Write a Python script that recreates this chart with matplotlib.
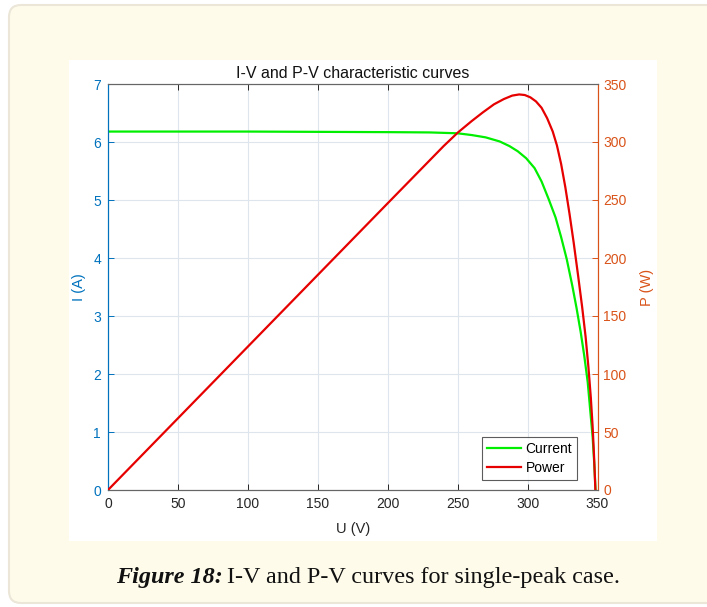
import matplotlib
matplotlib.use("Agg")
import matplotlib.pyplot as plt
from matplotlib.patches import FancyBboxPatch, Rectangle
from matplotlib.lines import Line2D

# ---- data ----
v_current = [0, 100, 200, 230, 250, 260, 270, 280, 287, 293, 299, 305, 310, 315,
             320, 324, 328, 332, 335, 338, 340.5, 343, 345, 346.5, 347.7, 348.6]
i_current = [6.18, 6.18, 6.17, 6.165, 6.15, 6.12, 6.08, 6.01, 5.93, 5.84, 5.72, 5.55, 5.32, 5.02,
             4.70, 4.36, 3.98, 3.52, 3.14, 2.72, 2.32, 1.86, 1.32, 0.92, 0.45, 0.0]

v_power = [0, 100, 200, 240, 250, 260, 268, 276, 283, 289, 294, 298, 302, 306, 310, 314,
           318, 321, 324, 327, 330, 333, 336, 339, 341.5, 343.5, 345.2, 346.5, 347.5, 348.5]
p_power = [0, 123.6, 247.2, 296.5, 308, 318, 325.5, 332.5, 337, 340, 341, 340.5, 338.5, 335,
           329.5, 320.5, 309, 297, 281, 261, 238, 213, 186, 158, 132, 106, 80, 55, 30, 0]

x_ticks = [0, 50, 100, 150, 200, 250, 300, 350]
i_ticks = [0, 1, 2, 3, 4, 5, 6, 7]
p_ticks = [0, 50, 100, 150, 200, 250, 300, 350]

title = "I-V and P-V characteristic curves"
caption_bold = "Figure 18:"
caption_rest = "I-V and P-V curves for single-peak case."

BLUE = "#0072BD"
ORANGE = "#D95319"
W, H = 707, 607

plt.rcParams['font.family'] = ['Liberation Sans', 'DejaVu Sans']

fig = plt.figure(figsize=(W / 100, H / 100), dpi=100)
fig.patch.set_facecolor("white")

# background panel (pixel coordinates)
bg = fig.add_axes([0, 0, 1, 1])
bg.set_xlim(0, W)
bg.set_ylim(H, 0)
bg.axis("off")
bg.add_patch(FancyBboxPatch((9, 5), 740, 598, boxstyle="round,pad=0,rounding_size=12",
                            facecolor="#fefbea", edgecolor="#ebe6d8", linewidth=1.5))
bg.add_patch(Rectangle((69, 60), 588, 481, facecolor="white", edgecolor="none"))

# caption
t1 = bg.text(116, 577, caption_bold, fontsize=17.4, fontweight="bold", fontstyle="italic",
             family="Liberation Serif", ha="left", va="center", color="#111111")
fig.canvas.draw()
r = fig.canvas.get_renderer()
bb = t1.get_window_extent(renderer=r)
x_end = bb.x1
bg.text(x_end + 4, 577, caption_rest, fontsize=17.4, family="Liberation Serif",
        ha="left", va="center", color="#111111")

# main axes
left, right, top, bottom = 108, 597.5, 84, 490
ax = fig.add_axes([left / W, 1 - bottom / H, (right - left) / W, (bottom - top) / H])
ax2 = ax.twinx()

ax.plot(v_current, i_current, color="#00ee00", lw=1.6, zorder=3)
ax2.plot(v_power, p_power, color="#e60000", lw=1.6, zorder=3)

ax.set_xlim(0, 350)
ax.set_ylim(0, 7)
ax2.set_ylim(0, 350)
ax.set_xticks(x_ticks)
ax.set_yticks(i_ticks)
ax2.set_yticks(p_ticks)

ax.grid(True, color="#dfe5ec", lw=0.8)
ax.set_axisbelow(True)

ax.tick_params(axis="x", direction="in", length=4, top=True, labelsize=10,
               colors="#262626", width=0.7, pad=5)
ax.tick_params(axis="y", direction="in", length=4, labelsize=10, colors=BLUE,
               width=0.7, right=False, pad=5)
ax2.tick_params(axis="y", direction="in", length=4, labelsize=10, colors=ORANGE,
                width=0.7, pad=4)

for a in (ax, ax2):
    a.spines["top"].set_color("#666666")
    a.spines["bottom"].set_color("#666666")
    a.spines["left"].set_color(BLUE)
    a.spines["right"].set_color(ORANGE)
    for s in a.spines.values():
        s.set_linewidth(0.8)

ax.set_xlabel("U (V)", fontsize=10.5, color="#262626", labelpad=8)
ax.set_ylabel("I (A)", fontsize=10.5, color=BLUE, labelpad=5)
ax2.set_ylabel("P (W)", fontsize=10.5, color=ORANGE, labelpad=10)
ax.set_title(title, fontsize=11.5, color="#111111", pad=4)

handles = [Line2D([], [], color="#00ee00", lw=1.6), Line2D([], [], color="#e60000", lw=1.6)]
leg = ax2.legend(handles, ["Current", "Power"], loc="lower right",
                 bbox_to_anchor=(0.958, 0.025), borderaxespad=0, fontsize=10,
                 frameon=True, fancybox=False, edgecolor="#333333", handlelength=2.5,
                 handletextpad=0.3, borderpad=0.35, labelspacing=0.35)
leg.get_frame().set_linewidth(0.8)

fig.savefig("out.png", dpi=100, facecolor=fig.get_facecolor())
